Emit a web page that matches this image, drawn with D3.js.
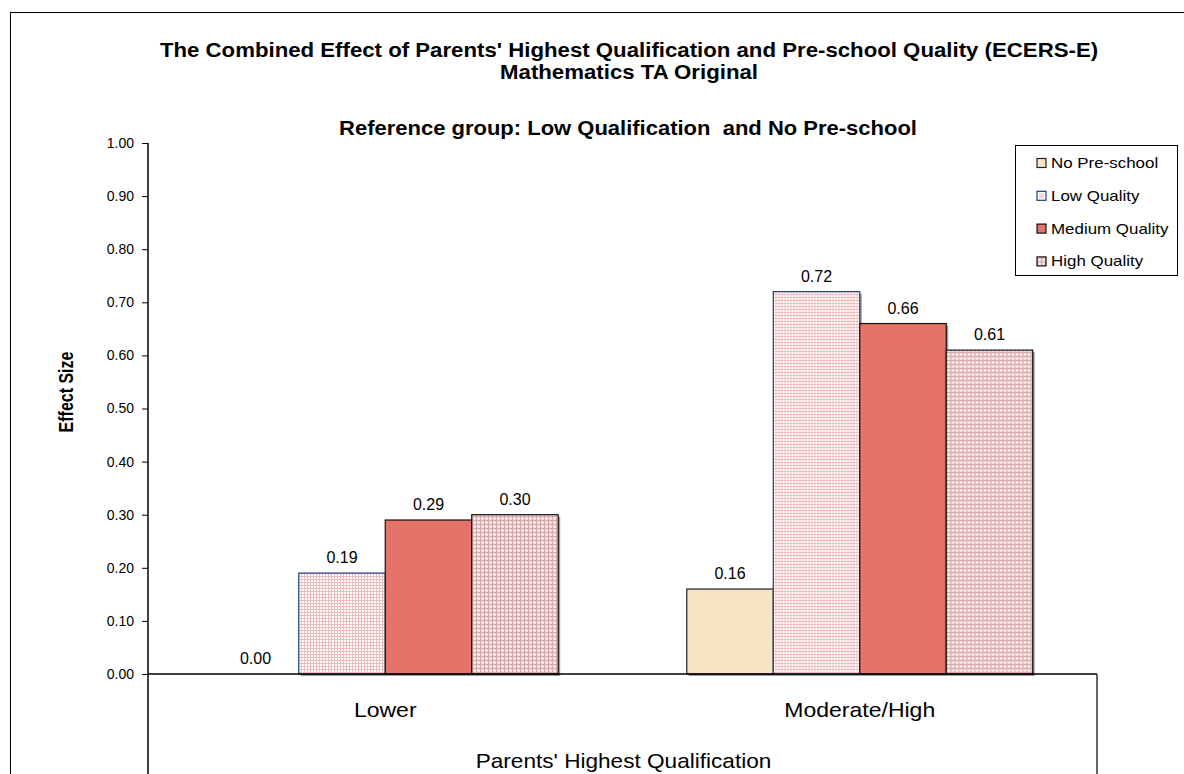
<!DOCTYPE html>
<html>
<head>
<meta charset="utf-8">
<script src="https://cdn.jsdelivr.net/npm/d3@7"></script>
<style>
  html, body { margin: 0; padding: 0; background: #fff; }
  svg { display: block; font-family: "Liberation Sans", Arial, sans-serif; }
  text { white-space: pre; }
</style>
</head>
<body>
<svg id="chart" width="1184" height="774"></svg>
<script>
// ---- data ----
const categories = ["Lower", "Moderate/High"];
const seriesNames = ["No Pre-school", "Low Quality", "Medium Quality", "High Quality"];
const noPreschool = [0.00, 0.16];
const lowQuality = [0.19, 0.72];
const mediumQuality = [0.29, 0.66];
const highQuality = [0.30, 0.61];
const yTicks = [0, 0.1, 0.2, 0.3, 0.4, 0.5, 0.6, 0.7, 0.8, 0.9, 1.0];
const titleLines = ["The Combined Effect of Parents' Highest Qualification and Pre-school Quality (ECERS-E)", "Mathematics TA Original"];
const subTitle = "Reference group: Low Qualification  and No Pre-school";
const yTitle = "Effect Size";
const xTitle = "Parents' Highest Qualification";

const seriesValues = [noPreschool, lowQuality, mediumQuality, highQuality];

const svg = d3.select("#chart");
const defs = svg.append("defs");

// patterns
const pLow = defs.append("pattern").attr("id", "patLow").attr("patternUnits", "userSpaceOnUse")
  .attr("width", 3).attr("height", 3);
pLow.append("rect").attr("width", 3).attr("height", 3).attr("fill", "#ffffff");
pLow.append("rect").attr("x", 0).attr("y", 0).attr("width", 3).attr("height", 1).attr("fill", "#f0bcbc");
pLow.append("rect").attr("x", 0).attr("y", 0).attr("width", 1).attr("height", 3).attr("fill", "#f0bcbc");

const pHigh = defs.append("pattern").attr("id", "patHigh").attr("patternUnits", "userSpaceOnUse")
  .attr("width", 4).attr("height", 4);
pHigh.append("rect").attr("width", 4).attr("height", 4).attr("fill", "#f4dcdc");
pHigh.append("rect").attr("x", 0).attr("y", 0).attr("width", 4).attr("height", 1).attr("fill", "#d9a9a9");
pHigh.append("rect").attr("x", 0).attr("y", 0).attr("width", 1).attr("height", 4).attr("fill", "#d9a9a9");
pHigh.append("rect").attr("x", 2).attr("y", 2).attr("width", 1).attr("height", 1).attr("fill", "#ffffff");

const pLegLow = defs.append("pattern").attr("id", "patLegLow").attr("patternUnits", "objectBoundingBox")
  .attr("width", 1).attr("height", 1);
pLegLow.append("rect").attr("width", 9).attr("height", 9).attr("fill", "#ffffff");
pLegLow.append("rect").attr("x", 2).attr("y", 2).attr("width", 5).attr("height", 5).attr("fill", "#f4d4d4");

const fills = ["#f7e4c3", "url(#patLow)", "#e5736a", "url(#patHigh)"];
const strokes = ["#222222", "#1f3b80", "#111111", "#111111"];
const legendFills = ["#f7e4c3", "url(#patLegLow)", "#e5736a", "url(#patHigh)"];

// stretched text helper (horizontal scale in screen space)
function placeText(sel, x, y, sx, rot) {
  sel.attr("transform", `translate(${x},${y}) scale(${sx},1)` + (rot ? ` rotate(${rot})` : ""));
  return sel;
}

// outer border
svg.append("rect").attr("x", 10.5).attr("y", 12.5).attr("width", 1300).attr("height", 900)
  .attr("fill", "none").attr("stroke", "#000").attr("stroke-width", 1);

const plot = { left: 148, right: 1097, top: 143, zero: 674 };

const y = d3.scaleLinear().domain([0, 1]).range([plot.zero, plot.top]);
const x0 = d3.scaleBand().domain(categories).range([plot.left, plot.right]).padding(0);
const x1 = d3.scaleBand().domain(seriesNames)
  .range([x0.bandwidth() * 0.1355, x0.bandwidth() * 0.8645]).padding(0);

// y axis
const yAxis = d3.axisLeft(y).tickValues(yTicks).tickFormat(d3.format(".2f")).tickSize(6).tickPadding(8);
const gy = svg.append("g").attr("transform", `translate(${plot.left},0)`).call(yAxis);
gy.select(".domain").remove();
gy.selectAll(".tick line").attr("stroke", "#000");
gy.selectAll(".tick text").attr("font-size", 14).attr("fill", "#000")
  .attr("font-family", "Liberation Sans, Arial, sans-serif");
svg.append("line").attr("x1", plot.left).attr("x2", plot.left).attr("y1", plot.top).attr("y2", 800)
  .attr("stroke", "#000").attr("stroke-width", 1.5);

// bars
const groups = svg.append("g").selectAll("g").data(categories).join("g")
  .attr("transform", d => `translate(${x0(d)},0)`);

groups.each(function(cat, ci) {
  const g = d3.select(this);
  seriesNames.forEach((s, si) => {
    const v = seriesValues[si][ci];
    const bx = x1(s), bw = x1.bandwidth();
    if (v > 0) {
      g.append("rect").attr("x", bx + 2).attr("y", y(v) + 2).attr("width", bw).attr("height", y(0) - y(v))
        .attr("fill", "#9a9a9a");
      g.append("rect").attr("x", bx).attr("y", y(v)).attr("width", bw).attr("height", y(0) - y(v))
        .attr("fill", fills[si]).attr("stroke", strokes[si]).attr("stroke-width", 1.2);
    }
    g.append("text").attr("x", bx + bw / 2).attr("y", y(v) - 10)
      .attr("text-anchor", "middle").attr("font-size", 16).attr("fill", "#000")
      .text(d3.format(".2f")(v));
  });
});

// zero line and lower box
svg.append("line").attr("x1", plot.left).attr("x2", plot.right).attr("y1", y(0)).attr("y2", y(0))
  .attr("stroke", "#000").attr("stroke-width", 1.5);
svg.append("line").attr("x1", plot.right).attr("x2", plot.right).attr("y1", y(0)).attr("y2", 800)
  .attr("stroke", "#333").attr("stroke-width", 1.5);

// category labels
svg.append("g").selectAll("text").data(categories).join("text")
  .attr("text-anchor", "middle").attr("font-size", 20).text(d => d)
  .each(function(d) { placeText(d3.select(this), x0(d) + x0.bandwidth() / 2, 717, 1.15); });

// titles
svg.append("g").selectAll("text").data(titleLines).join("text")
  .attr("text-anchor", "middle").attr("font-size", 19.5).attr("font-weight", "bold").text(d => d)
  .each(function(d, i) { placeText(d3.select(this), 629, 57 + i * 22, 1.14); });
placeText(svg.append("text").attr("text-anchor", "middle")
  .attr("font-size", 20).attr("font-weight", "bold").text(subTitle), 628, 135, 1.1);

placeText(svg.append("text").attr("text-anchor", "middle")
  .attr("font-size", 16).attr("font-weight", "bold").text(yTitle), 73, 392, 1.3, -90);
placeText(svg.append("text").attr("text-anchor", "middle")
  .attr("font-size", 20).text(xTitle), 623.5, 768, 1.13);

// legend
const lg = svg.append("g");
lg.append("rect").attr("x", 1015.5).attr("y", 145.5).attr("width", 162).attr("height", 130)
  .attr("fill", "#fff").attr("stroke", "#000").attr("stroke-width", 1);
const li = lg.selectAll("g").data(seriesNames).join("g")
  .attr("transform", (d, i) => `translate(1037,${163 + i * 32.8})`);
li.append("rect").attr("x", 0).attr("y", -4.5).attr("width", 9).attr("height", 9)
  .attr("fill", (d, i) => legendFills[i]).attr("stroke", (d, i) => strokes[i]).attr("stroke-width", 1.2);
li.append("text").attr("font-size", 14).text(d => d)
  .each(function() { placeText(d3.select(this), 14, 5, 1.21); });
</script>
</body>
</html>
